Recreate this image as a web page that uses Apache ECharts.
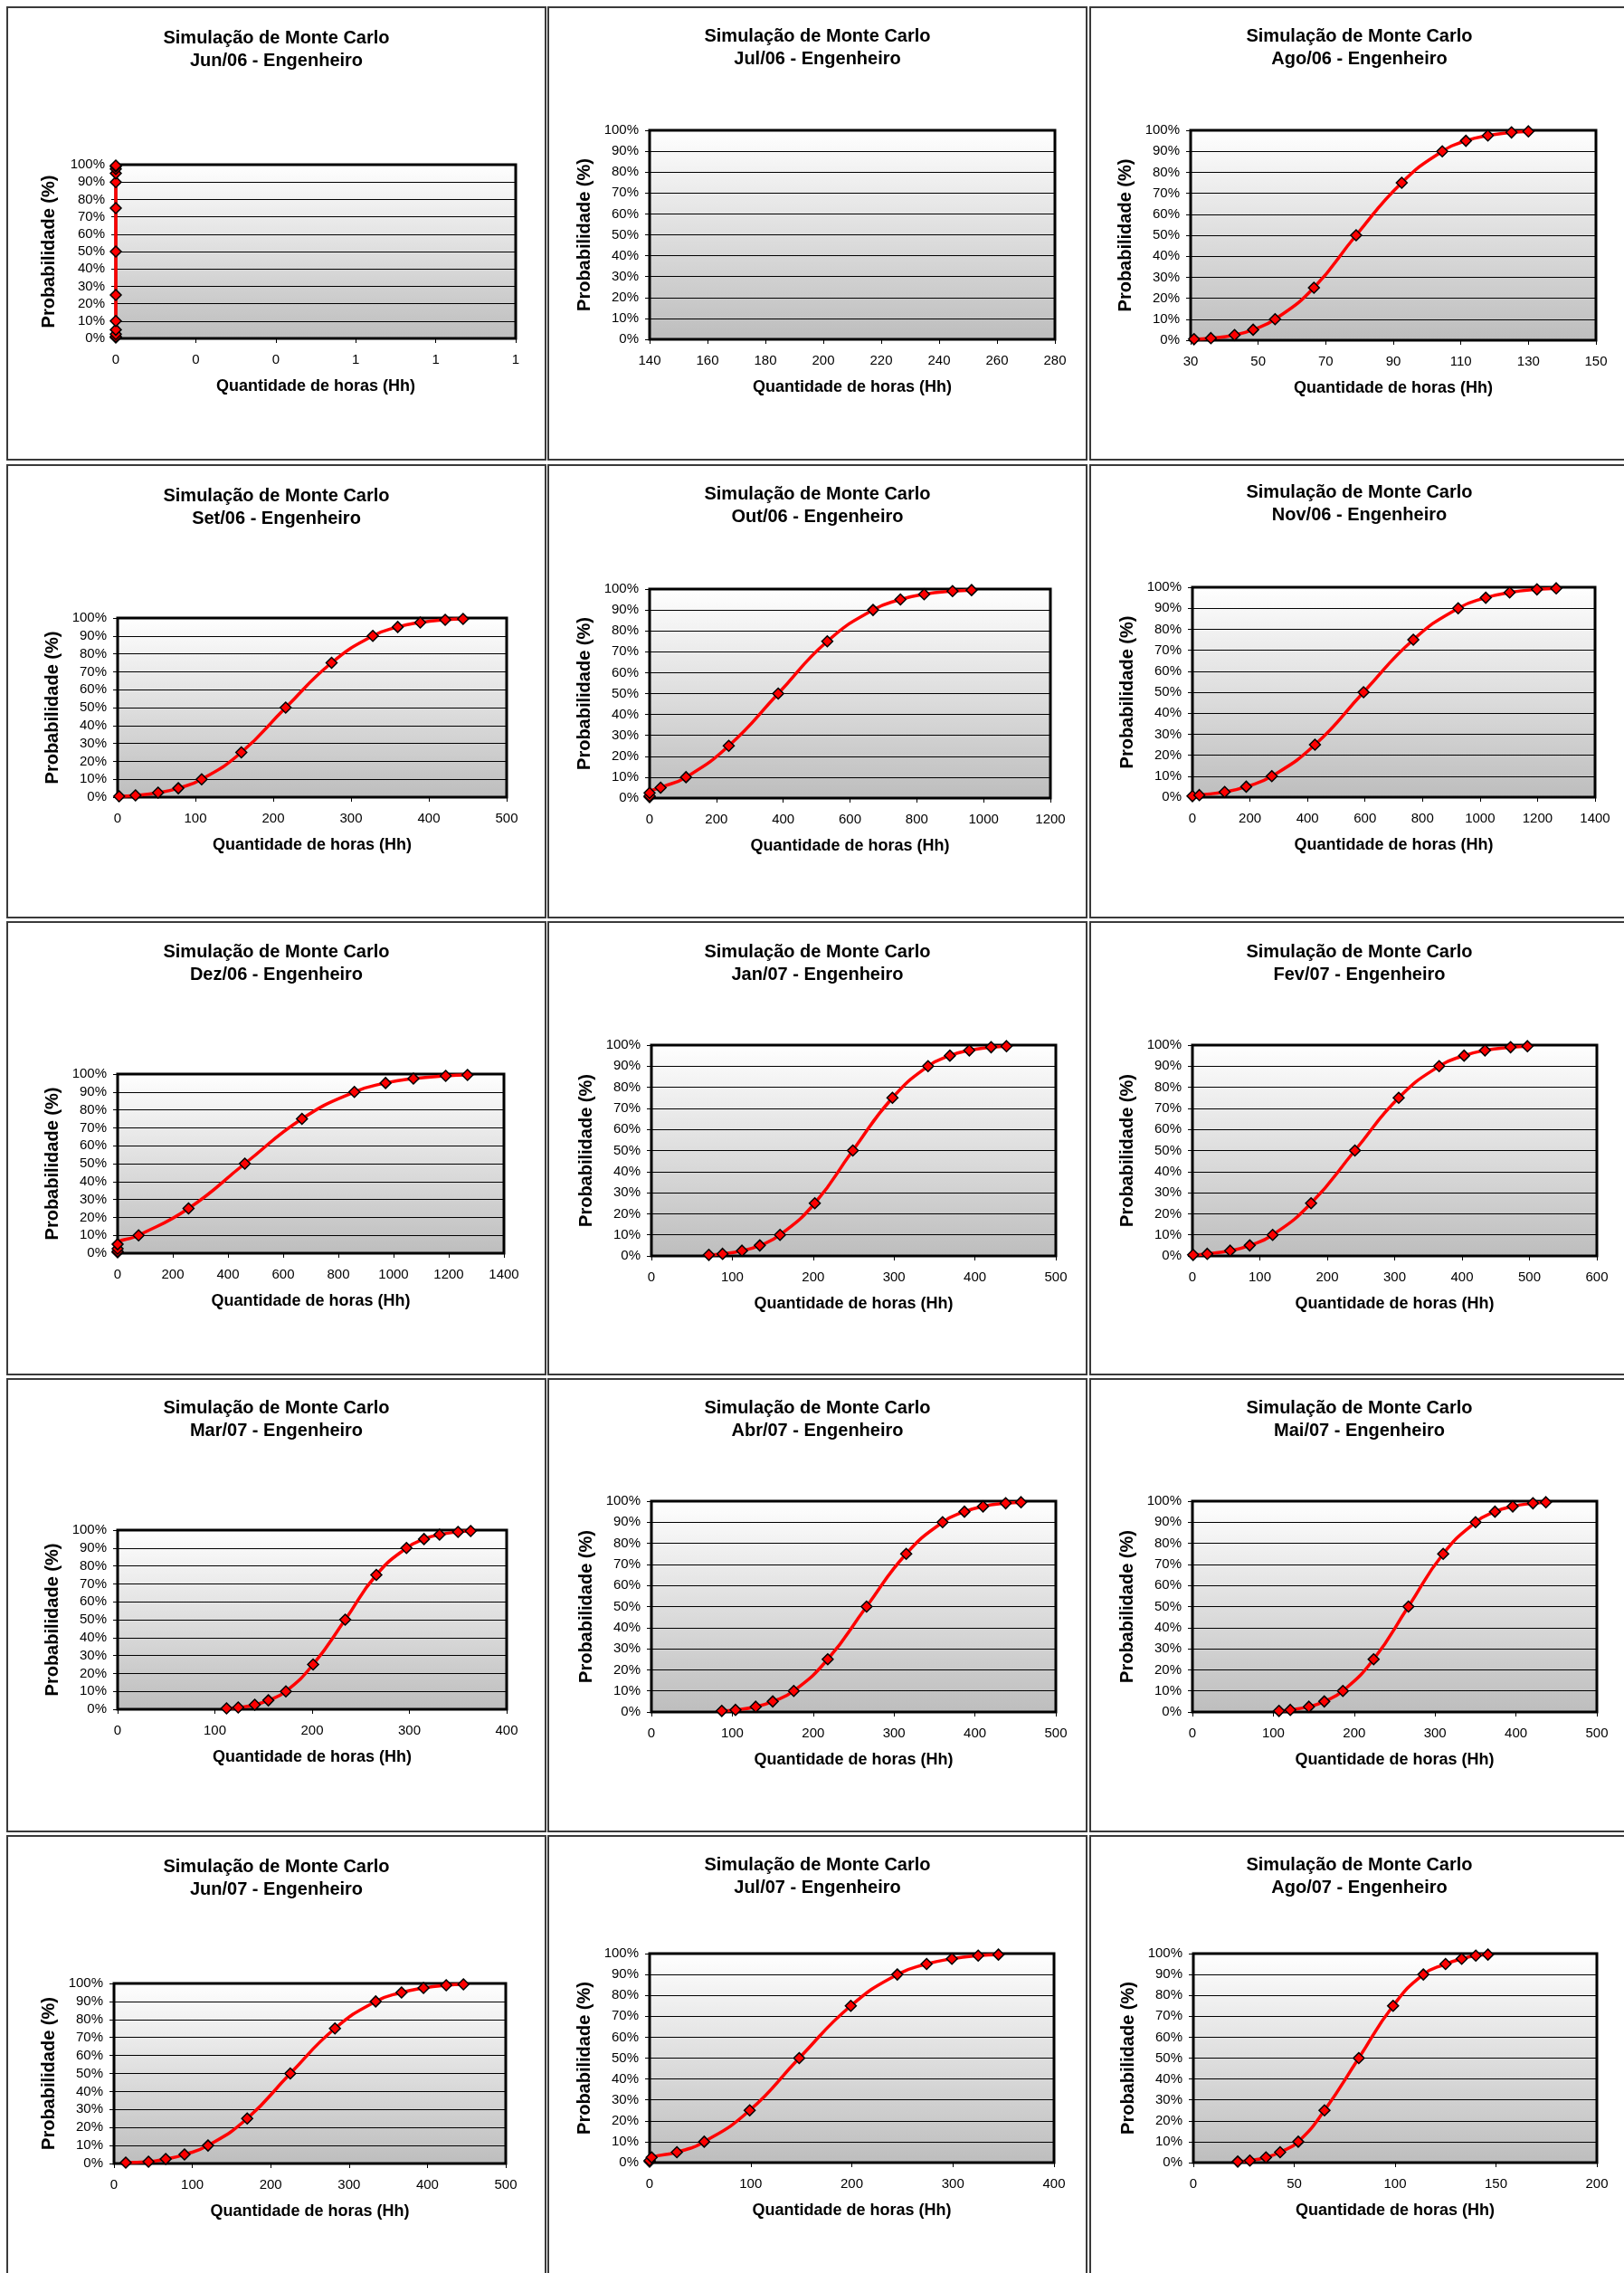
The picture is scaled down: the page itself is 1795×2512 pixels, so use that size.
<!DOCTYPE html>
<html><head><meta charset="utf-8">
<script src="https://cdn.jsdelivr.net/npm/echarts@6/dist/echarts.min.js"></script>
<style>
html,body{margin:0;padding:0;background:#fff;}
body{width:1795px;height:2512px;position:relative;overflow:hidden;}
.chart{position:absolute;width:597px;height:502px;}
.frame{position:absolute;width:597px;height:502px;box-sizing:border-box;border:2px solid #3a3a3a;pointer-events:none;z-index:5;}
</style></head><body>
<script>
// ---------- DATA ----------
const probLevels = [0.5, 1, 2.5, 5, 10, 25, 50, 75, 90, 95, 97.5, 99, 99.5];
const months = ['Jun/06','Jul/06','Ago/06','Set/06','Out/06','Nov/06','Dez/06','Jan/07','Fev/07','Mar/07','Abr/07','Mai/07','Jun/07','Jul/07','Ago/07'];
const hoursJun06 = [0, 0, 0, 0, 0, 0, 0, 0, 0, 0, 0, 0, 0];
const hoursJul06 = [];
const hoursAgo06 = [31, 36, 43, 48.5, 55, 66.5, 79, 92.5, 104.5, 111.5, 118, 125, 130];
const hoursSet06 = [2, 23, 52, 78, 108, 159, 216, 275, 328, 360, 389, 421, 444];
const hoursOut06 = [0, 0, 0, 33, 109, 237, 385, 532, 669, 751, 822, 907, 964];
const hoursNov06 = [0, 24, 112, 187, 276, 426, 595, 768, 924, 1020, 1103, 1198, 1265];
const hoursDez06 = [0, 0, 0, 0, 76, 257, 461, 668, 858, 971, 1072, 1189, 1268];
const hoursJan07 = [71, 88, 112, 134, 159, 202, 249, 298, 342, 369, 393, 420, 439];
const hoursFev07 = [1, 22, 56, 85, 119, 176, 241, 306, 366, 403, 434, 472, 497];
const hoursMar07 = [112, 124, 141, 155, 173, 201, 234, 266, 297, 315, 331, 350, 363];
const hoursAbr07 = [87, 104, 129, 150, 176, 218, 266, 315, 360, 387, 410, 438, 457];
const hoursMai07 = [107, 121, 144, 163, 186, 224, 267, 310, 350, 374, 396, 421, 437];
const hoursJun07 = [15, 44, 66, 90, 120, 170, 225, 282, 334, 367, 395, 424, 446];
const hoursJul07 = [0, 0, 2, 27, 54, 99, 148, 199, 245, 274, 299, 325, 345];
const hoursAgo07 = [22, 28, 36, 43, 52, 65, 82, 99, 114, 125, 133, 140, 146];
const hoursSeries = [hoursJun06, hoursJul06, hoursAgo06, hoursSet06, hoursOut06, hoursNov06, hoursDez06,
  hoursJan07, hoursFev07, hoursMar07, hoursAbr07, hoursMai07, hoursJun07, hoursJul07, hoursAgo07];
const xAxisMin  = [0, 140, 30, 0, 0, 0, 0, 0, 0, 0, 0, 0, 0, 0, 0];
const xAxisMax  = [1, 280, 150, 500, 1200, 1400, 1400, 500, 600, 400, 500, 500, 500, 400, 200];
const xAxisStep = [0.2, 20, 20, 100, 200, 200, 200, 100, 100, 100, 100, 100, 100, 100, 50];
const yAxisMin = 0, yAxisMax = 100, yAxisStep = 10;
const titleMain = 'Simulação de Monte Carlo';
const titleSuffix = ' - Engenheiro';
const xAxisTitle = 'Quantidade de horas (Hh)';
const yAxisTitle = 'Probabilidade (%)';

// ---------- LAYOUT ----------
const colLeft = [7, 605, 1204];
const rowTop = [7, 513, 1018, 1523, 2028];
const plotBoxes = [
  [128,182,570,374],[718,144,1166,375],[1316,144,1764,376],
  [130,683,560,881],[718,651,1161,882],[1318,649,1763,881],
  [130,1187,557,1385],[720,1155,1167,1388],[1318,1155,1765,1388],
  [130,1691,560,1889],[720,1659,1167,1892],[1318,1659,1765,1892],
  [126,2192,559,2391],[718,2159,1165,2390],[1319,2159,1765,2390]
];
const titleLine1Y = [42,40,40,548,546,544,1052,1052,1052,1556,1556,1556,2063,2061,2061];
const yNameGap = [64,60,60,60,60,60,60,60,60,60,60,60,60,60,60];
const FONT = '"Liberation Sans", Arial, Helvetica, sans-serif';

for (let i = 0; i < 15; i++) {
  const ox = colLeft[i % 3], oy = rowTop[Math.floor(i / 3)];
  const el = document.createElement('div');
  el.className = 'chart';
  el.style.left = ox + 'px'; el.style.top = oy + 'px';
  document.body.appendChild(el);
  const fr = document.createElement('div');
  fr.className = 'frame';
  fr.style.left = ox + 'px'; fr.style.top = oy + 'px';
  document.body.appendChild(fr);

  const [pl, pt, pr, pb] = plotBoxes[i];
  const data = hoursSeries[i].map((h, k) => [h, probLevels[k]]);
  const chart = echarts.init(el, null, {renderer: 'canvas'});
  chart.setOption({
    animation: false,
    backgroundColor: '#ffffff',
    textStyle: {fontFamily: FONT},
    title: {
      text: titleMain + '\n' + months[i] + titleSuffix,
      left: 'center',
      padding: 0,
      top: titleLine1Y[i] - oy - 12.5,
      textStyle: {fontSize: 20, fontWeight: 'bold', color: '#000', lineHeight: 25, fontFamily: FONT}
    },
    grid: {
      left: pl - ox, top: pt - oy, width: pr - pl, height: pb - pt,
      show: true,
      backgroundColor: {type: 'linear', x: 0, y: 0, x2: 0, y2: 1,
        colorStops: [{offset: 0, color: '#ffffff'}, {offset: 1, color: '#bdbdbd'}]},
      borderColor: '#000', borderWidth: 3
    },
    xAxis: {
      type: 'value', min: xAxisMin[i], max: xAxisMax[i], interval: xAxisStep[i],
      name: xAxisTitle, nameLocation: 'middle', nameGap: 44,
      nameTextStyle: {fontSize: 18, fontWeight: 'bold', color: '#000', fontFamily: FONT},
      axisLine: {show: true, onZero: false, lineStyle: {color: '#000', width: 1}},
      axisTick: {show: true, length: 5, lineStyle: {color: '#000'}},
      axisLabel: {margin: 16, fontSize: 15, color: '#000', fontFamily: FONT,
        formatter: i === 0 ? (v => String(Math.round(v))) : (v => String(v))},
      splitLine: {show: false}
    },
    yAxis: {
      type: 'value', min: yAxisMin, max: yAxisMax, interval: yAxisStep,
      name: yAxisTitle, nameLocation: 'middle', nameGap: yNameGap[i],
      nameTextStyle: {fontSize: 20, fontWeight: 'bold', color: '#000', fontFamily: FONT},
      axisLine: {show: true, lineStyle: {color: '#000', width: 1}},
      axisTick: {show: true, length: 5, lineStyle: {color: '#000'}},
      axisLabel: {margin: 12, fontSize: 15, color: '#000', fontFamily: FONT, formatter: '{value}%'},
      splitLine: {show: true, lineStyle: {color: '#000', width: 1}}
    },
    series: [{
      type: 'line', data: data, smooth: true, clip: false,
      symbol: 'diamond', symbolSize: 12,
      lineStyle: {color: '#ff0000', width: 3.5},
      itemStyle: {color: '#ff0000', borderColor: '#000', borderWidth: 1.5},
      z: 5
    }]
  });
}
</script>
</body></html>
